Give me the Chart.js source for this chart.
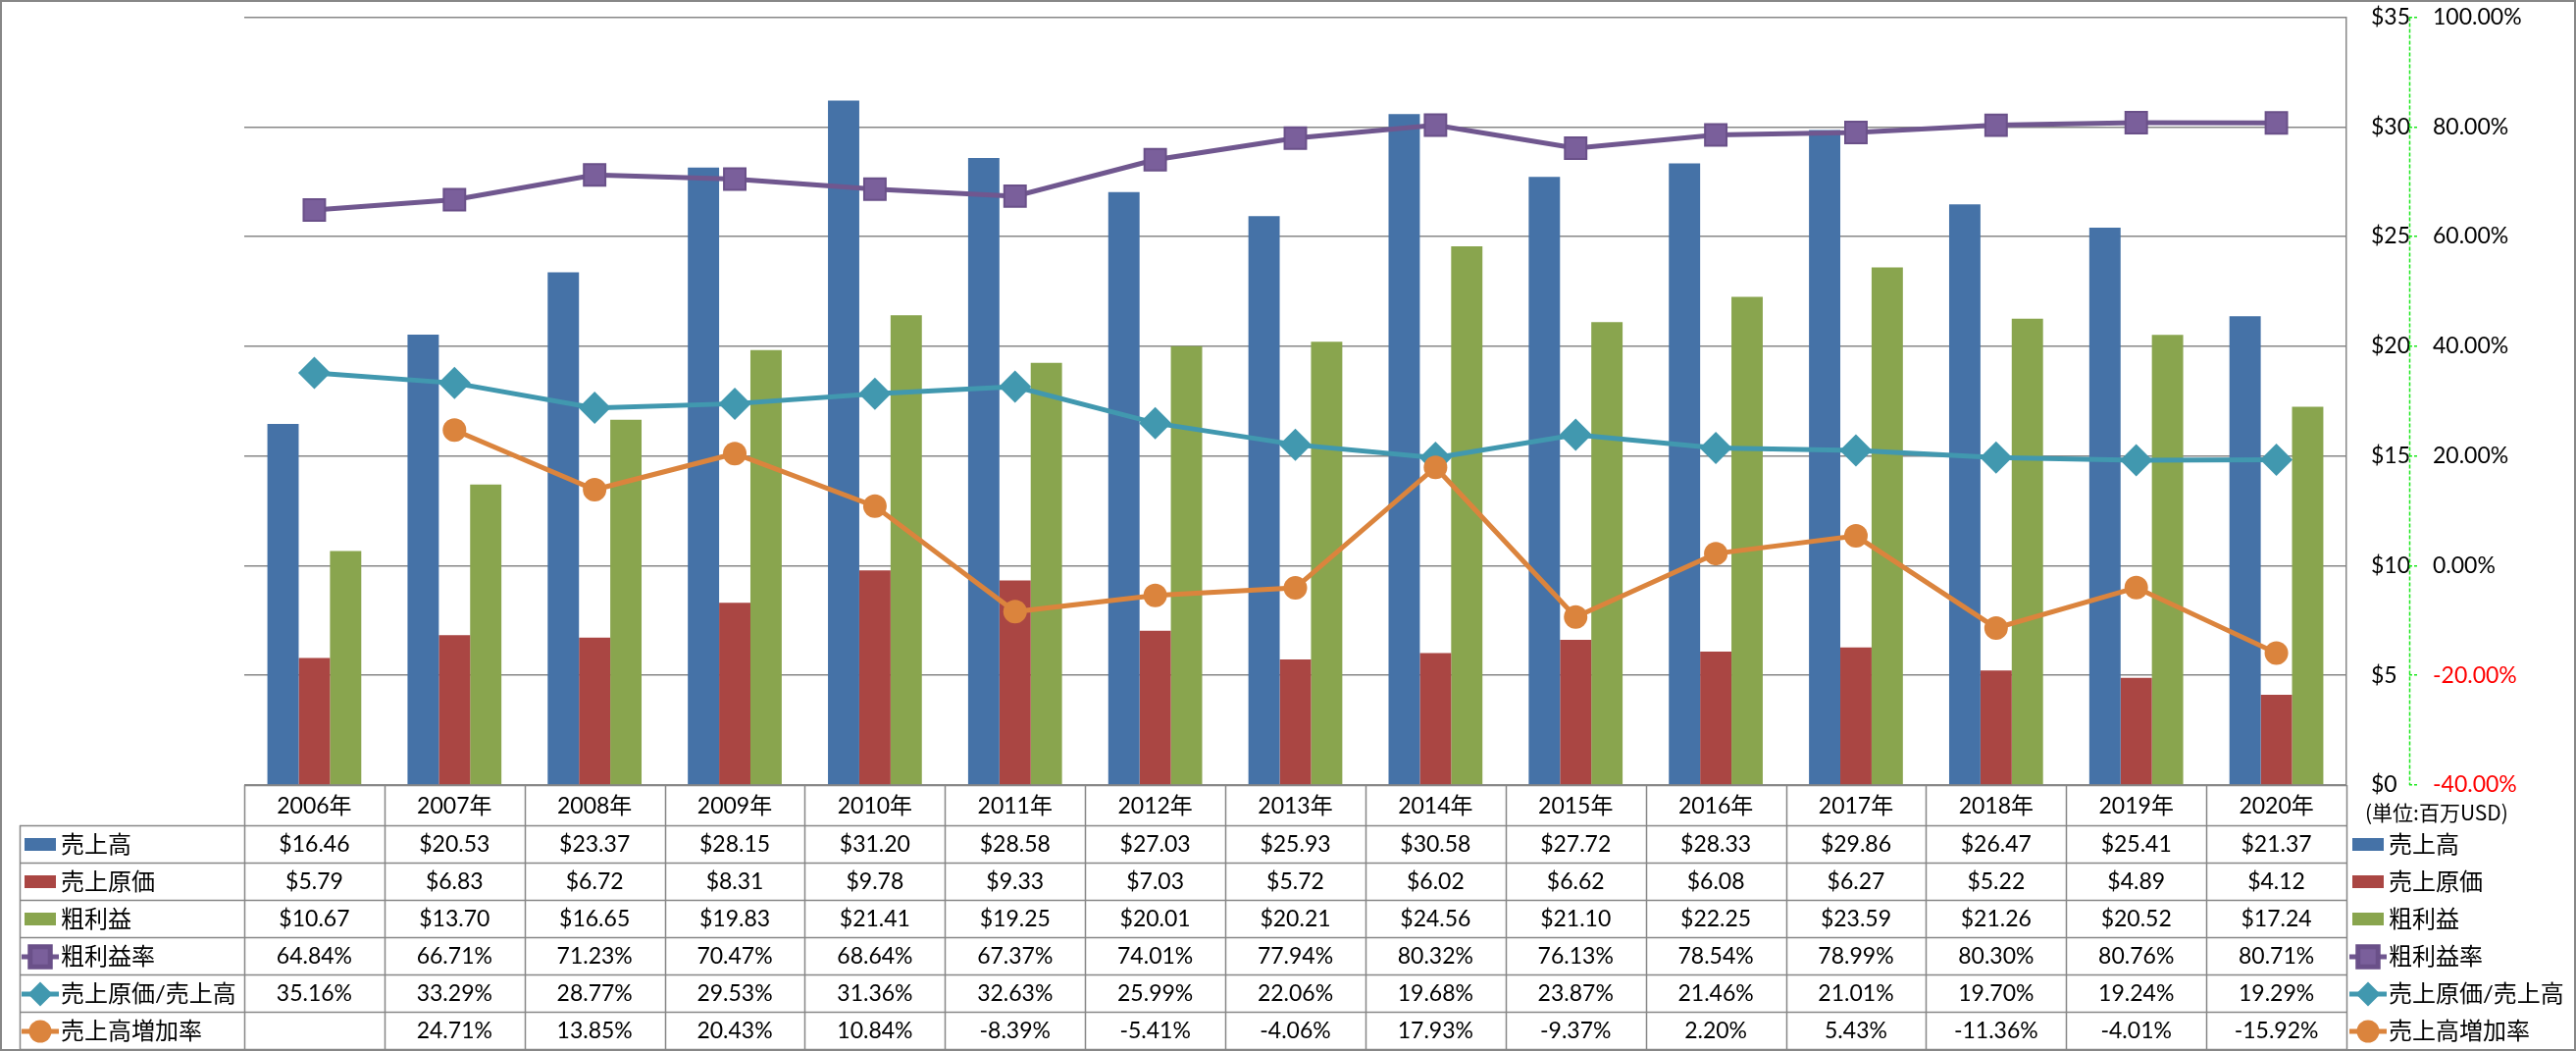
<!DOCTYPE html>
<html>
<head>
<meta charset="utf-8">
<script src="https://cdn.jsdelivr.net/npm/chart.js@4/dist/chart.umd.min.js"></script>
<style>
  html, body { margin: 0; padding: 0; background: #fff; }
  canvas { display: block; }
</style>
</head>
<body>
<canvas id="salesChart" width="2626" height="1071"></canvas>
<script>
// values in 百万USD, ratios in %
const years = ['2006年', '2007年', '2008年', '2009年', '2010年', '2011年', '2012年', '2013年', '2014年', '2015年', '2016年', '2017年', '2018年', '2019年', '2020年'];
const sales = [16.46, 20.53, 23.37, 28.15, 31.20, 28.58, 27.03, 25.93, 30.58, 27.72, 28.33, 29.86, 26.47, 25.41, 21.37];
const costOfSales = [5.79, 6.83, 6.72, 8.31, 9.78, 9.33, 7.03, 5.72, 6.02, 6.62, 6.08, 6.27, 5.22, 4.89, 4.12];
const grossProfit = [10.67, 13.70, 16.65, 19.83, 21.41, 19.25, 20.01, 20.21, 24.56, 21.10, 22.25, 23.59, 21.26, 20.52, 17.24];
const grossMargin = [64.84, 66.71, 71.23, 70.47, 68.64, 67.37, 74.01, 77.94, 80.32, 76.13, 78.54, 78.99, 80.30, 80.76, 80.71];
const costRatio = [35.16, 33.29, 28.77, 29.53, 31.36, 32.63, 25.99, 22.06, 19.68, 23.87, 21.46, 21.01, 19.70, 19.24, 19.29];
const salesGrowth = [null, 24.71, 13.85, 20.43, 10.84, -8.39, -5.41, -4.06, 17.93, -9.37, 2.20, 5.43, -11.36, -4.01, -15.92];
const unitLabel = '(単位:百万USD)';

const FONT = "Lato, 'Noto Sans CJK JP', sans-serif";
const gridGray = '#878787';
const axisGreen = '#1ee81e';

const money = (v) => '$' + v.toFixed(2);
const pct = (v) => v.toFixed(2) + '%';

const datasets = [
    { type: 'bar', label: '売上高', data: sales, backgroundColor: '#4572a7', yAxisID: 'y', order: 2, fmt: money },
    { type: 'bar', label: '売上原価', data: costOfSales, backgroundColor: '#aa4643', yAxisID: 'y', order: 2, fmt: money },
    { type: 'bar', label: '粗利益', data: grossProfit, backgroundColor: '#89a54e', yAxisID: 'y', order: 2, fmt: money },
    {
        type: 'line', label: '粗利益率', data: grossMargin, yAxisID: 'y1', order: 1,
        borderColor: '#70578f', borderWidth: 5, backgroundColor: '#7a5f9b',
        pointStyle: 'rect', pointRadius: 15.5, pointBorderColor: '#6a5089', pointBorderWidth: 2, fmt: pct
    },
    {
        type: 'line', label: '売上原価/売上高', data: costRatio, yAxisID: 'y1', order: 1,
        borderColor: '#4198af', borderWidth: 5, backgroundColor: '#4198af',
        pointStyle: 'rectRot', pointRadius: 16.5, pointBorderWidth: 0, fmt: pct
    },
    {
        type: 'line', label: '売上高増加率', data: salesGrowth, yAxisID: 'y1', order: 0,
        borderColor: '#db843d', borderWidth: 5, backgroundColor: '#db843d',
        pointStyle: 'circle', pointRadius: 12, pointBorderWidth: 0, fmt: pct
    }
];

// draws the data table + legend under the plot area, and the dashed % axis line
const dataTablePlugin = {
    id: 'dataTable',
    afterDraw(chart) {
        const ctx = chart.ctx;
        const xs = chart.scales.x;
        const y1 = chart.scales.y1;
        const area = chart.chartArea;
        const colW = (area.right - area.left) / years.length;
        const top = area.bottom;
        const headerBottom = top + 41;
        const rowH = 38;
        const tableLeft = 20;
        const nRows = datasets.length;
        const bottom = headerBottom + nRows * rowH;

        ctx.save();
        // secondary axis line (dashed green)
        ctx.strokeStyle = axisGreen;
        ctx.lineWidth = 1.5;
        ctx.setLineDash([4, 2]);
        ctx.beginPath();
        ctx.moveTo(Math.round(y1.left) + 0.5, y1.top);
        ctx.lineTo(Math.round(y1.left) + 0.5, y1.bottom);
        ctx.stroke();
        ctx.setLineDash([]);

        ctx.strokeStyle = gridGray;
        ctx.lineWidth = 1.5;
        ctx.beginPath();
        // header top + column lines
        ctx.moveTo(area.left, top + 0.5);
        ctx.lineTo(area.right, top + 0.5);
        for (let i = 0; i <= years.length; i++) {
            const x = Math.round(area.left + i * colW) + 0.5;
            ctx.moveTo(x, top);
            ctx.lineTo(x, bottom);
        }
        ctx.moveTo(tableLeft + 0.5, headerBottom);
        ctx.lineTo(tableLeft + 0.5, bottom);
        for (let r = 0; r <= nRows; r++) {
            const y = Math.round(headerBottom + r * rowH) + 0.5;
            ctx.moveTo(tableLeft, y);
            ctx.lineTo(area.right, y);
        }
        ctx.stroke();

        ctx.fillStyle = '#000';
        ctx.textAlign = 'center';
        ctx.textBaseline = 'middle';
        ctx.font = '23px ' + FONT;
        years.forEach((yr, i) => {
            ctx.fillText(yr, xs.getPixelForValue(i), (top + headerBottom) / 2 + 1);
        });

        datasets.forEach((ds, r) => {
            const cy = headerBottom + r * rowH + rowH / 2 + 1;
            ctx.font = '23px ' + FONT;
            ctx.textAlign = 'center';
            ctx.fillStyle = '#000';
            ds.data.forEach((v, i) => {
                if (v === null) return;
                ctx.fillText(ds.fmt(v), xs.getPixelForValue(i), cy);
            });
            drawKey(ctx, ds, 25, cy);
            drawKey(ctx, ds, 2398, cy);
        });

        ctx.font = "21px 'Noto Sans CJK JP', sans-serif";
        ctx.textAlign = 'left';
        ctx.fillStyle = '#000';
        ctx.fillText(unitLabel, 2411, 828);

        // outer chart border
        ctx.strokeStyle = gridGray;
        ctx.lineWidth = 2;
        ctx.strokeRect(1, 1, chart.width - 2, chart.height - 2);
        ctx.restore();
    }
};

function drawKey(ctx, ds, x0, cy) {
    if (ds.type === 'bar') {
        ctx.fillStyle = ds.backgroundColor;
        ctx.fillRect(x0, cy - 7, 32, 13);
    } else {
        ctx.strokeStyle = ds.borderColor;
        ctx.lineWidth = 5;
        ctx.beginPath();
        ctx.moveTo(x0 - 3, cy);
        ctx.lineTo(x0 + 35, cy);
        ctx.stroke();
        ctx.fillStyle = ds.backgroundColor;
        ctx.strokeStyle = ds.pointBorderColor || ds.backgroundColor;
        const r = ds.pointStyle === 'rectRot' ? 12.5 : ds.pointStyle === 'rect' ? 14.5 : 11.5;
        Chart.helpers.drawPoint(ctx, { pointStyle: ds.pointStyle, radius: r, rotation: 0, borderWidth: ds.pointBorderWidth || 0 }, x0 + 16, cy);
    }
    ctx.fillStyle = '#000';
    ctx.font = '24px ' + FONT;
    ctx.textAlign = 'left';
    ctx.fillText(ds.label, x0 + 37, cy);
}

new Chart(document.getElementById('salesChart'), {
    data: { labels: years, datasets: datasets },
    options: {
        responsive: false,
        animation: false,
        devicePixelRatio: 1,
        layout: { padding: { left: 249, top: 15, bottom: 271, right: 0 } },
        plugins: { legend: { display: false }, tooltip: { enabled: false } },
        datasets: {
            bar: { categoryPercentage: 0.67, barPercentage: 1.0 }
        },
        scales: {
            x: { display: false },
            y: {
                position: 'right',
                min: 0, max: 35,
                ticks: {
                    stepSize: 5, padding: 25, color: '#000',
                    font: { family: FONT, size: 23 },
                    callback: (v) => '$' + v
                },
                grid: { color: gridGray, lineWidth: 1.5, drawTicks: false },
                border: { display: true, color: gridGray, width: 1.5 },
                afterFit: (s) => { s.width = 64; s.paddingTop = 0; s.paddingBottom = 0; }
            },
            y1: {
                position: 'right',
                min: -40, max: 100,
                ticks: {
                    stepSize: 20, padding: 15,
                    color: (c) => c.tick.value < 0 ? '#ff0000' : '#000',
                    font: { family: FONT, size: 23 },
                    callback: (v) => pct(v)
                },
                grid: {
                    drawOnChartArea: false, drawTicks: true, tickLength: 9,
                    color: axisGreen, lineWidth: 1.5, tickBorderDash: [3, 2]
                },
                border: { display: false },
                afterFit: (s) => { s.width = 170; s.paddingTop = 0; s.paddingBottom = 0; }
            }
        }
    },
    plugins: [dataTablePlugin]
});
</script>
</body>
</html>
